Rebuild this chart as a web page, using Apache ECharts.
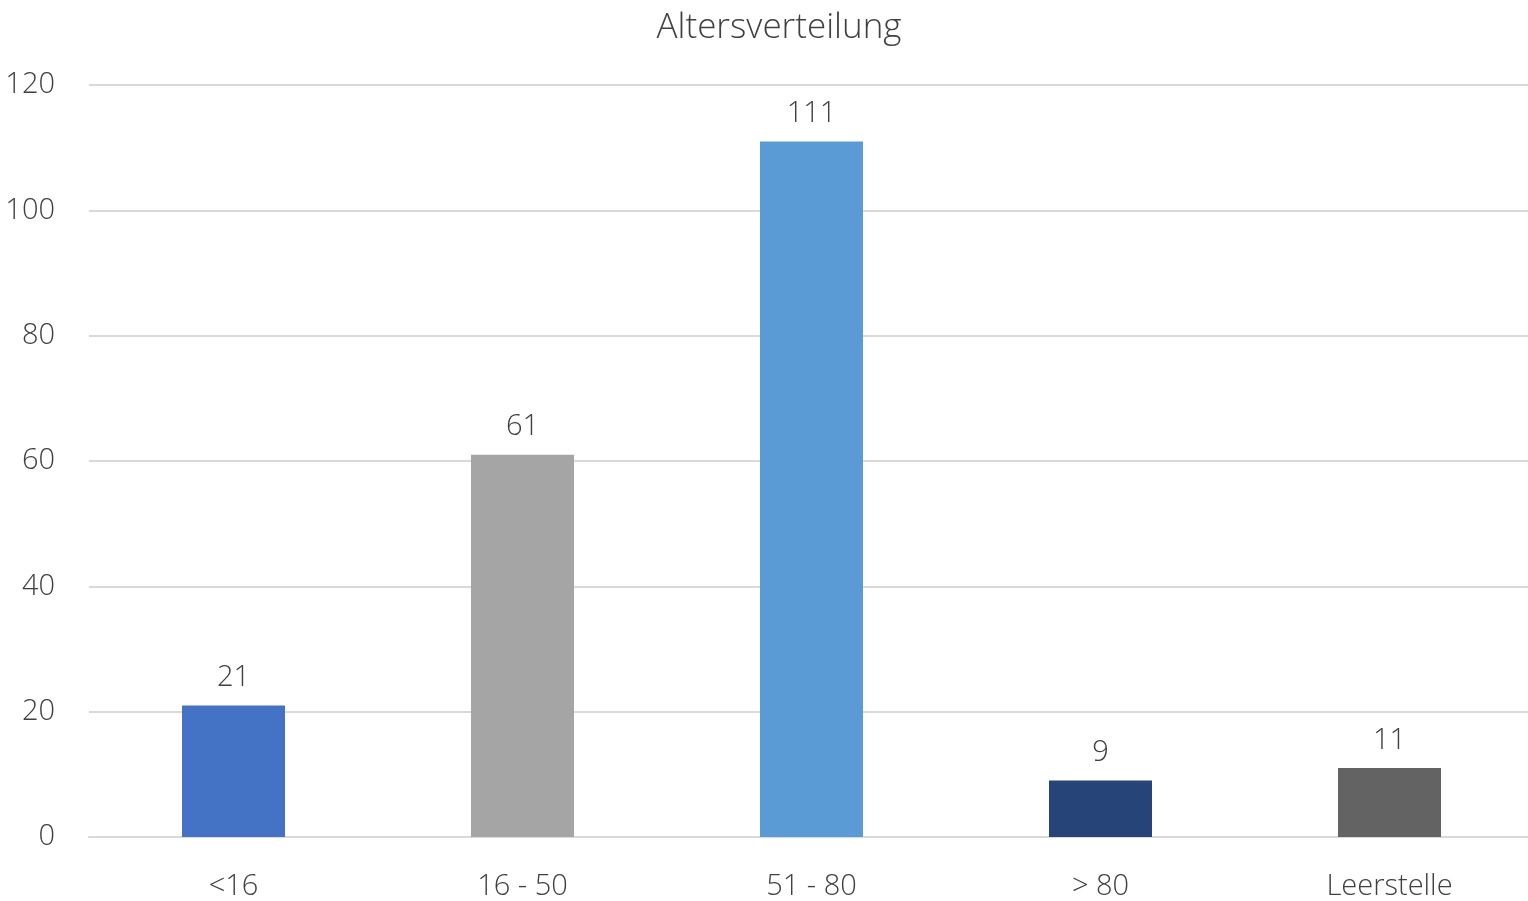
<!DOCTYPE html>
<html>
<head>
<meta charset="utf-8">
<script src="https://cdn.jsdelivr.net/npm/echarts@6/dist/echarts.min.js"></script>
<style>
html, body { margin: 0; padding: 0; background: #fff; }
#chart { width: 1528px; height: 901px; }
</style>
</head>
<body>
<div id="chart"></div>
<script>
// Age groups and counts
const categories = ['<16', '16 - 50', '51 - 80', '> 80', 'Leerstelle'];
const counts = [21, 61, 111, 9, 11];
const barColors = ['#4472C4', '#A5A5A5', '#5B9BD5', '#264478', '#636363'];
const yTicks = { min: 0, max: 120, interval: 20 };

const textColor = '#404040';
const fontFamily = '"Open Sans", "Noto Sans", sans-serif';

const chart = echarts.init(document.getElementById('chart'), null, { renderer: 'canvas' });

chart.setOption({
  animation: false,
  backgroundColor: '#ffffff',
  title: {
    text: 'Altersverteilung',
    left: 774,
    textAlign: 'center',
    top: 6,
    textStyle: { fontFamily, fontSize: 35, fontWeight: 300, color: textColor }
  },
  grid: { left: 89, width: 1445, top: 85, bottom: 64, containLabel: false, outerBoundsMode: 'none' },
  xAxis: {
    type: 'category',
    data: categories,
    axisLine: { lineStyle: { color: '#d9d9d9', width: 2 } },
    axisTick: { show: false },
    axisLabel: { fontFamily, fontSize: 29, fontWeight: 300, color: textColor, margin: 35 }
  },
  yAxis: {
    type: 'value',
    min: yTicks.min,
    max: yTicks.max,
    interval: yTicks.interval,
    axisLine: { show: false },
    axisTick: { show: false },
    splitLine: { lineStyle: { color: '#d9d9d9', width: 2 } },
    axisLabel: { fontFamily, fontSize: 29, fontWeight: 300, color: textColor, margin: 34 }
  },
  series: [{
    type: 'bar',
    barWidth: 103,
    data: counts.map((v, i) => ({ value: v, itemStyle: { color: barColors[i] } })),
    label: {
      show: true,
      position: 'top',
      distance: 13,
      fontFamily, fontSize: 29, fontWeight: 300, color: textColor
    }
  }]
});
</script>
</body>
</html>
